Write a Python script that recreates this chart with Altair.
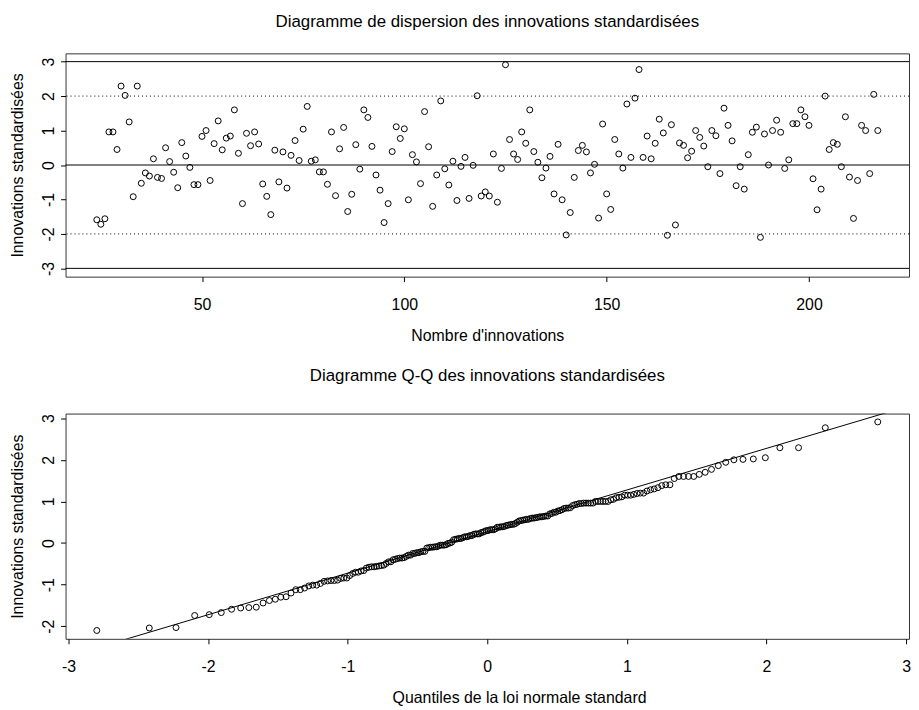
import math
from statistics import NormalDist

import altair as alt
import pandas as pd

# ---------------- data ----------------
start_index = 24
innovations = [
    -1.59, -1.72, -1.56, 0.96, 0.96, 0.45, 2.29, 2.02, 1.25, -0.92,   # 24-33
    2.29, -0.53, -0.23, -0.32, 0.18, -0.36, -0.39, 0.50, 0.10, -0.21,  # 34-43
    -0.66, 0.65, 0.26, -0.07, -0.57, -0.57, 0.83, 1.00, -0.45, 0.62,   # 44-53
    1.28, 0.44, 0.78, 0.84, 1.60, 0.34, -1.12, 0.92, 0.56, 0.96,       # 54-63
    0.61, -0.55, -0.91, -1.44, 0.43, -0.49, 0.38, -0.67, 0.28, 0.71,   # 64-73
    0.13, 1.04, 1.70, 0.11, 0.15, -0.20, -0.20, -0.56, 0.96, -0.89,    # 74-83
    0.47, 1.09, -1.35, -0.85, 0.59, -0.12, 1.60, 1.38, 0.54, -0.29,    # 84-93
    -0.73, -1.67, -1.12, 0.39, 1.11, 0.77, 1.05, -1.01, 0.30, 0.09,    # 94-103
    -0.54, 1.55, 0.53, -1.20, -0.29, 1.86, -0.11, -0.58, 0.11, -1.03,  # 104-113
    -0.04, 0.22, -0.97, -0.01, 2.01, -0.90, -0.78, -0.90, 0.32, -1.08, # 114-123
    -0.10, 2.91, 0.74, 0.32, 0.16, 0.96, 0.63, 1.60, 0.39, 0.08,       # 124-133
    -0.37, -0.09, 0.25, -0.84, 0.60, -1.01, -2.03, -1.38, -0.36, 0.42, # 134-143
    0.57, 0.38, -0.23, 0.02, -1.54, 1.19, -0.84, -1.29, 0.74, 0.32,    # 144-153
    -0.09, 1.77, 0.22, 1.94, 2.77, 0.22, 0.84, 0.18, 0.63, 1.33,       # 154-163
    0.93, -2.04, 1.17, -1.74, 0.64, 0.57, 0.21, 0.40, 1.00, 0.80,      # 164-173
    0.55, -0.05, 1.00, 0.85, -0.25, 1.65, 1.15, 0.70, -0.60, -0.05,    # 174-183
    -0.70, 0.30, 0.95, 1.10, -2.10, 0.90, 0.00, 1.00, 1.30, 0.95,      # 184-193
    -0.10, 0.15, 1.20, 1.20, 1.60, 1.40, 1.15, -0.40, -1.30, -0.70,    # 194-203
    2.00, 0.45, 0.65, 0.60, -0.05, 1.40, -0.35, -1.55, -0.45, 1.15,    # 204-213
    1.00, -0.25, 2.05, 1.00,                                           # 214-217
]
solid_levels = [-3, 0, 3]
dotted_levels = [-2, 2]
top_x_ticks = [50, 100, 150, 200]
top_y_ticks = [-3, -2, -1, 0, 1, 2, 3]
qq_x_ticks = [-3, -2, -1, 0, 1, 2, 3]
qq_y_ticks = [-2, -1, 0, 1, 2, 3]

title_top = "Diagramme de dispersion des innovations standardisées"
title_qq = "Diagramme Q-Q des innovations standardisées"
xlab_top = "Nombre d'innovations"
xlab_qq = "Quantiles de la loi normale standard"
ylab = "Innovations standardisées"

# ---------------- derived tables ----------------
n = len(innovations)
index = list(range(start_index, start_index + n))
df_top = pd.DataFrame({"index": index, "value": innovations})

nd = NormalDist()
srt = sorted(innovations)
a = 0.5 if n > 10 else 3 / 8
theo = [nd.inv_cdf((k + 1 - a) / (n + 1 - 2 * a)) for k in range(n)]
df_qq = pd.DataFrame({"theo": theo, "sample": srt})


def q7(xs, p):
    h = (len(xs) - 1) * p
    lo = int(math.floor(h))
    hi = min(lo + 1, len(xs) - 1)
    return xs[lo] + (h - lo) * (xs[hi] - xs[lo])


z1, z3 = nd.inv_cdf(0.25), nd.inv_cdf(0.75)
slope = (q7(srt, 0.75) - q7(srt, 0.25)) / (z3 - z1)
intercept = q7(srt, 0.25) - slope * z1


def ext(lo, hi):
    d = (hi - lo) * 0.04
    return [lo - d, hi + d]


top_xdom = ext(min(index), max(index))
top_ydom = ext(-3, 3)
qq_xdom = ext(min(theo), max(theo))
qq_ydom = ext(min(srt), max(srt))
df_line = pd.DataFrame({
    "theo": qq_xdom,
    "sample": [intercept + slope * x for x in qq_xdom],
})

# ---------------- styling ----------------
FONT = "Liberation Sans"
W = 850
H_TOP, H_QQ = 225, 227


def axis(values, title, orient, title_x=None):
    common = dict(
        values=values, title=title, grid=False, domain=False,
        ticks=True, tickSize=5, tickColor="black", tickWidth=1,
        labelFont=FONT, labelFontSize=16, labelColor="black",
        labelOverlap=False, labelFlush=False, labelBound=False,
        titleFont=FONT, titleFontSize=16, titleFontWeight="normal",
        titleColor="black",
        labelExpr="'' + datum.value",
    )
    if orient == "left":
        return alt.Axis(labelAngle=270, labelAlign="center",
                        labelBaseline="bottom", labelPadding=4,
                        titlePadding=15, **common)
    if title_x is not None:
        common["titleX"] = title_x
    return alt.Axis(labelPadding=15, titlePadding=15, **common)


def ttl(text, offset):
    return alt.TitleParams(text=text, font=FONT, fontSize=17,
                           fontWeight="normal", color="black",
                           anchor="middle", offset=offset)


pts_style = dict(shape="circle", filled=False, color="black", size=36,
                 strokeWidth=1, opacity=1)

# ---------------- top panel ----------------
xs_top = alt.Scale(domain=top_xdom, nice=False, zero=False)
ys_top = alt.Scale(domain=top_ydom, nice=False, zero=False)
ax_top_x = axis(top_x_ticks, xlab_top, "bottom")
ax_top_y = axis(top_y_ticks, ylab, "left")

pts = alt.Chart(df_top).mark_point(**pts_style).encode(
    x=alt.X("index:Q", scale=xs_top, axis=ax_top_x),
    y=alt.Y("value:Q", scale=ys_top, axis=ax_top_y),
)
solid = alt.Chart(pd.DataFrame({"value": solid_levels})).mark_rule(
    color="black", strokeWidth=1).encode(
    y=alt.Y("value:Q", scale=ys_top, axis=ax_top_y))
dotted = alt.Chart(pd.DataFrame({"value": dotted_levels})).mark_rule(
    color="black", strokeWidth=1, strokeDash=[1, 3]).encode(
    y=alt.Y("value:Q", scale=ys_top, axis=ax_top_y))

top = alt.layer(pts, solid, dotted).properties(
    width=W, height=H_TOP, title=ttl(title_top, 23))

# ---------------- QQ panel ----------------
xs_qq = alt.Scale(domain=qq_xdom, nice=False, zero=False)
ys_qq = alt.Scale(domain=qq_ydom, nice=False, zero=False)
ax_qq_x = axis(qq_x_ticks, xlab_qq, "bottom", title_x=457)
ax_qq_y = axis(qq_y_ticks, ylab, "left")

qpts = alt.Chart(df_qq).mark_point(**pts_style).encode(
    x=alt.X("theo:Q", scale=xs_qq, axis=ax_qq_x),
    y=alt.Y("sample:Q", scale=ys_qq, axis=ax_qq_y),
)
qline = alt.Chart(df_line).mark_line(color="black", strokeWidth=1, clip=True).encode(
    x=alt.X("theo:Q", scale=xs_qq, axis=ax_qq_x),
    y=alt.Y("sample:Q", scale=ys_qq, axis=ax_qq_y),
)
bottom = alt.layer(qpts, qline).properties(
    width=W, height=H_QQ, title=ttl(title_qq, 29))

chart = alt.vconcat(top, bottom, spacing=22).properties(
    padding={"left": 1, "top": 1, "right": 0, "bottom": 0},
    background="white",
).configure_view(stroke="#333333", strokeWidth=1)

chart.save("out.html", embed_options={"renderer": "svg", "actions": False})
